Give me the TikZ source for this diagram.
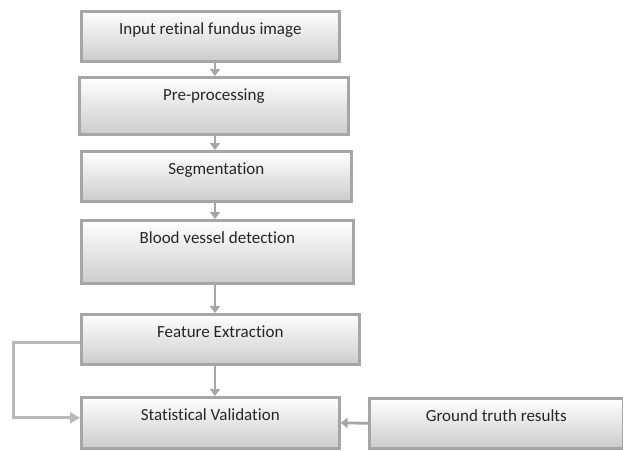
\documentclass[tikz,border=0pt]{standalone}
\usepackage{fontspec}
\setmainfont{Carlito}[Ligatures=NoCommon]
\usetikzlibrary{arrows.meta,shadows}

\begin{document}
\begin{tikzpicture}[x=1pt,y=-1pt,
    stage/.style={draw=gray!70,line width=2.6pt,top color=white,bottom color=gray!40,
        anchor=north west,inner sep=0pt,text height=23pt,font=\fontsize{17}{20}\selectfont,
        text=black!85,drop shadow={shadow xshift=-1.5pt,shadow yshift=-2pt,opacity=0.45}},
    flow/.style={draw=gray!70,line width=2.8pt,-{Triangle[length=7pt,width=10pt]}},
    back/.style={draw=gray!55,line width=3pt,-{Triangle[length=10pt,width=11pt]}}]
            \useasboundingbox (0,0) rectangle (623,450);
            \node [stage,minimum width=258pt,text depth=27pt] (in) at (80,10) {Input retinal fundus image};
            \node [stage,minimum width=269pt,text depth=34pt] (pre) at (78,76) {Pre-processing};
            \node [stage,minimum width=270pt,text depth=27pt] (seg) at (80,150) {Segmentation};
            \node [stage,minimum width=272pt,text depth=40pt] (bv) at (80,219) {Blood vessel detection};
            \node [stage,minimum width=278pt,text depth=27pt] (fe) at (80,313) {Feature Extraction};
            \node [stage,minimum width=258pt,text depth=28pt] (sv) at (80,396) {Statistical Validation};
            \node [stage,minimum width=254pt,text depth=27pt] (gt) at (368,397) {Ground truth results};
            \coordinate (ax) at (215,0);
            \draw [flow] (in.south -| ax) -- (pre.north -| ax);
            \draw [flow] (pre.south -| ax) -- (seg.north -| ax);
            \draw [flow] (seg.south -| ax) -- (bv.north -| ax);
            \draw [flow] (bv.south -| ax) -- (fe.north -| ax);
            \draw [flow] (fe.south -| ax) -- (sv.north -| ax);
            \draw [back] ([yshift=-3pt]fe.west) -- ++(-67,0) |- ([yshift=5pt]sv.west);
            \draw [flow] (gt.west) -- (sv.east);
\end{tikzpicture}
\end{document}
